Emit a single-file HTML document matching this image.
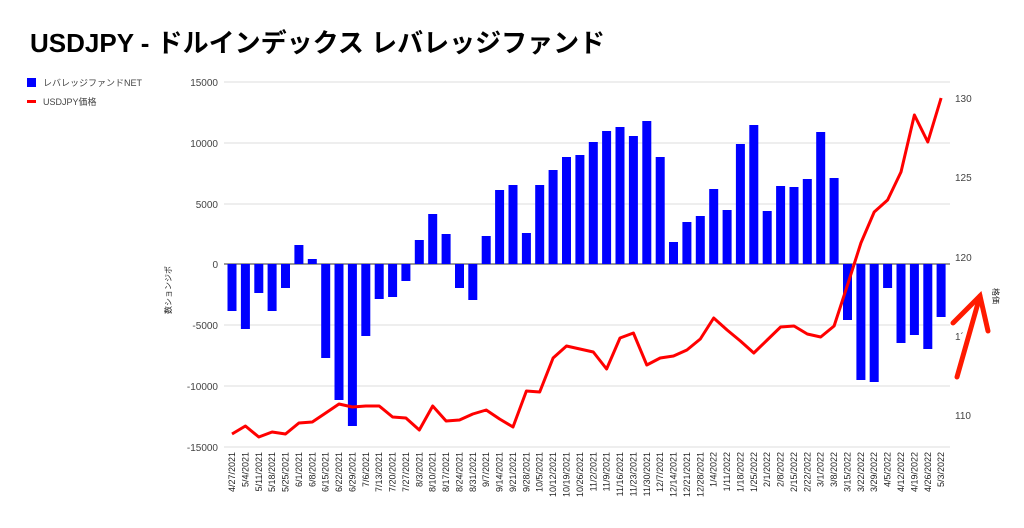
<!DOCTYPE html>
<html><head><meta charset="utf-8"><style>
body{margin:0;background:#fff;}
svg{display:block;font-family:"Liberation Sans","Noto Sans CJK JP",sans-serif;}
</style></head><body>
<svg width="1024" height="528" viewBox="0 0 1024 528" xmlns="http://www.w3.org/2000/svg">
<text x="30" y="52" font-size="26" font-weight="bold" fill="#000">USDJPY - ドルインデックス レバレッジファンド</text>
<rect x="27" y="78" width="9" height="9" fill="#0000ff"/>
<text x="43" y="86" font-size="9" fill="#444">レバレッジファンドNET</text>
<rect x="27" y="100" width="9" height="3" fill="#ff0000"/>
<text x="43" y="105" font-size="9" fill="#444">USDJPY価格</text>
<g stroke="#ddd" stroke-width="1">
<line x1="224" y1="82" x2="950" y2="82"/><line x1="224" y1="143" x2="950" y2="143"/><line x1="224" y1="204" x2="950" y2="204"/><line x1="224" y1="325" x2="950" y2="325"/><line x1="224" y1="386" x2="950" y2="386"/><line x1="224" y1="447" x2="950" y2="447"/>
</g>
<line x1="224" y1="264" x2="950" y2="264" stroke="#333" stroke-width="1"/>
<g font-size="10" fill="#444" text-anchor="end">
<text x="218" y="86">15000</text><text x="218" y="147">10000</text><text x="218" y="208">5000</text><text x="218" y="268">0</text><text x="218" y="329">-5000</text><text x="218" y="390">-10000</text><text x="218" y="451">-15000</text>
</g>
<g font-size="10" fill="#444">
<text x="955" y="102">130</text><text x="955" y="181">125</text><text x="955" y="261">120</text><text x="955" y="340">1´</text><text x="955" y="419">110</text>
</g>
<text transform="translate(171,290) rotate(-90)" font-size="8" fill="#222" text-anchor="middle">数ションジポ</text>
<text transform="translate(993,296) rotate(90)" font-size="8" fill="#222" text-anchor="middle">格価</text>
<g fill="#0000ff">
<rect x="227.5" y="264" width="9" height="47"/>
<rect x="240.9" y="264" width="9" height="65"/>
<rect x="254.3" y="264" width="9" height="29"/>
<rect x="267.6" y="264" width="9" height="47"/>
<rect x="281" y="264" width="9" height="24"/>
<rect x="294.4" y="245" width="9" height="19"/>
<rect x="307.8" y="259" width="9" height="5"/>
<rect x="321.2" y="264" width="9" height="94"/>
<rect x="334.5" y="264" width="9" height="136"/>
<rect x="347.9" y="264" width="9" height="162"/>
<rect x="361.3" y="264" width="9" height="72"/>
<rect x="374.7" y="264" width="9" height="35"/>
<rect x="388.1" y="264" width="9" height="33"/>
<rect x="401.4" y="264" width="9" height="17"/>
<rect x="414.8" y="240" width="9" height="24"/>
<rect x="428.2" y="214" width="9" height="50"/>
<rect x="441.6" y="234" width="9" height="30"/>
<rect x="455" y="264" width="9" height="24"/>
<rect x="468.3" y="264" width="9" height="36"/>
<rect x="481.7" y="236" width="9" height="28"/>
<rect x="495.1" y="190" width="9" height="74"/>
<rect x="508.5" y="185" width="9" height="79"/>
<rect x="521.9" y="233" width="9" height="31"/>
<rect x="535.2" y="185" width="9" height="79"/>
<rect x="548.6" y="170" width="9" height="94"/>
<rect x="562" y="157" width="9" height="107"/>
<rect x="575.4" y="155" width="9" height="109"/>
<rect x="588.8" y="142" width="9" height="122"/>
<rect x="602.1" y="131" width="9" height="133"/>
<rect x="615.5" y="127" width="9" height="137"/>
<rect x="628.9" y="136" width="9" height="128"/>
<rect x="642.3" y="121" width="9" height="143"/>
<rect x="655.7" y="157" width="9" height="107"/>
<rect x="669" y="242" width="9" height="22"/>
<rect x="682.4" y="222" width="9" height="42"/>
<rect x="695.8" y="216" width="9" height="48"/>
<rect x="709.2" y="189" width="9" height="75"/>
<rect x="722.6" y="210" width="9" height="54"/>
<rect x="735.9" y="144" width="9" height="120"/>
<rect x="749.3" y="125" width="9" height="139"/>
<rect x="762.7" y="211" width="9" height="53"/>
<rect x="776.1" y="186" width="9" height="78"/>
<rect x="789.5" y="187" width="9" height="77"/>
<rect x="802.8" y="179" width="9" height="85"/>
<rect x="816.2" y="132" width="9" height="132"/>
<rect x="829.6" y="178" width="9" height="86"/>
<rect x="843" y="264" width="9" height="56"/>
<rect x="856.4" y="264" width="9" height="116"/>
<rect x="869.7" y="264" width="9" height="118"/>
<rect x="883.1" y="264" width="9" height="24"/>
<rect x="896.5" y="264" width="9" height="79"/>
<rect x="909.9" y="264" width="9" height="71"/>
<rect x="923.3" y="264" width="9" height="85"/>
<rect x="936.6" y="264" width="9" height="53"/>
</g>
<polyline fill="none" stroke="#ff0000" stroke-width="3" stroke-linejoin="round" points="232,434 245.4,426 258.8,437 272.1,432 285.5,434 298.9,423 312.3,422 325.7,413 339,404 352.4,407 365.8,406 379.2,406 392.6,417 405.9,418 419.3,430 432.7,406 446.1,421 459.5,420 472.8,414 486.2,410 499.6,419 513,427 526.4,391 539.7,392 553.1,358 566.5,346 579.9,349 593.3,352 606.6,369 620,338 633.4,333 646.8,365 660.2,358 673.5,356 686.9,350 700.3,339 713.7,318 727.1,330 740.4,341 753.8,353 767.2,340 780.6,327 794,326 807.3,334 820.7,337 834.1,326 847.5,285 860.9,243 874.2,212 887.6,200 901,172 914.4,115 927.8,142 941.1,98"/>
<g stroke="#ff1a00" stroke-width="5" stroke-linecap="round" fill="none">
<line x1="957" y1="377" x2="980" y2="296"/>
<polyline points="953,323 980,296 988,331"/>
</g>
<g font-size="9" fill="#222" text-anchor="end">
<text transform="translate(235,452) rotate(-90)">4/27/2021</text>
<text transform="translate(248.4,452) rotate(-90)">5/4/2021</text>
<text transform="translate(261.8,452) rotate(-90)">5/11/2021</text>
<text transform="translate(275.1,452) rotate(-90)">5/18/2021</text>
<text transform="translate(288.5,452) rotate(-90)">5/25/2021</text>
<text transform="translate(301.9,452) rotate(-90)">6/1/2021</text>
<text transform="translate(315.3,452) rotate(-90)">6/8/2021</text>
<text transform="translate(328.7,452) rotate(-90)">6/15/2021</text>
<text transform="translate(342,452) rotate(-90)">6/22/2021</text>
<text transform="translate(355.4,452) rotate(-90)">6/29/2021</text>
<text transform="translate(368.8,452) rotate(-90)">7/6/2021</text>
<text transform="translate(382.2,452) rotate(-90)">7/13/2021</text>
<text transform="translate(395.6,452) rotate(-90)">7/20/2021</text>
<text transform="translate(408.9,452) rotate(-90)">7/27/2021</text>
<text transform="translate(422.3,452) rotate(-90)">8/3/2021</text>
<text transform="translate(435.7,452) rotate(-90)">8/10/2021</text>
<text transform="translate(449.1,452) rotate(-90)">8/17/2021</text>
<text transform="translate(462.5,452) rotate(-90)">8/24/2021</text>
<text transform="translate(475.8,452) rotate(-90)">8/31/2021</text>
<text transform="translate(489.2,452) rotate(-90)">9/7/2021</text>
<text transform="translate(502.6,452) rotate(-90)">9/14/2021</text>
<text transform="translate(516,452) rotate(-90)">9/21/2021</text>
<text transform="translate(529.4,452) rotate(-90)">9/28/2021</text>
<text transform="translate(542.7,452) rotate(-90)">10/5/2021</text>
<text transform="translate(556.1,452) rotate(-90)">10/12/2021</text>
<text transform="translate(569.5,452) rotate(-90)">10/19/2021</text>
<text transform="translate(582.9,452) rotate(-90)">10/26/2021</text>
<text transform="translate(596.3,452) rotate(-90)">11/2/2021</text>
<text transform="translate(609.6,452) rotate(-90)">11/9/2021</text>
<text transform="translate(623,452) rotate(-90)">11/16/2021</text>
<text transform="translate(636.4,452) rotate(-90)">11/23/2021</text>
<text transform="translate(649.8,452) rotate(-90)">11/30/2021</text>
<text transform="translate(663.2,452) rotate(-90)">12/7/2021</text>
<text transform="translate(676.5,452) rotate(-90)">12/14/2021</text>
<text transform="translate(689.9,452) rotate(-90)">12/21/2021</text>
<text transform="translate(703.3,452) rotate(-90)">12/28/2021</text>
<text transform="translate(716.7,452) rotate(-90)">1/4/2022</text>
<text transform="translate(730.1,452) rotate(-90)">1/11/2022</text>
<text transform="translate(743.4,452) rotate(-90)">1/18/2022</text>
<text transform="translate(756.8,452) rotate(-90)">1/25/2022</text>
<text transform="translate(770.2,452) rotate(-90)">2/1/2022</text>
<text transform="translate(783.6,452) rotate(-90)">2/8/2022</text>
<text transform="translate(797,452) rotate(-90)">2/15/2022</text>
<text transform="translate(810.3,452) rotate(-90)">2/22/2022</text>
<text transform="translate(823.7,452) rotate(-90)">3/1/2022</text>
<text transform="translate(837.1,452) rotate(-90)">3/8/2022</text>
<text transform="translate(850.5,452) rotate(-90)">3/15/2022</text>
<text transform="translate(863.9,452) rotate(-90)">3/22/2022</text>
<text transform="translate(877.2,452) rotate(-90)">3/29/2022</text>
<text transform="translate(890.6,452) rotate(-90)">4/5/2022</text>
<text transform="translate(904,452) rotate(-90)">4/12/2022</text>
<text transform="translate(917.4,452) rotate(-90)">4/19/2022</text>
<text transform="translate(930.8,452) rotate(-90)">4/26/2022</text>
<text transform="translate(944.1,452) rotate(-90)">5/3/2022</text>
</g>
</svg>
</body></html>
